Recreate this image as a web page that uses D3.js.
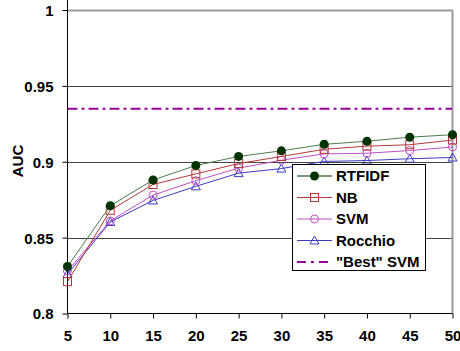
<!DOCTYPE html>
<html><head><meta charset="utf-8">
<script src="https://cdn.jsdelivr.net/npm/d3@7"></script>
<style>body{margin:0;background:#fff}svg{display:block}text{font-family:Arial,"Liberation Sans",sans-serif;font-weight:bold}</style>
</head><body><svg id="c" width="460" height="351"></svg>
<script>
const xValues = [5,10,15,20,25,30,35,40,45,50];
const rtfidf  = [0.831,0.871,0.888,0.8975,0.9035,0.9072,0.9115,0.9135,0.9162,0.9178];
const nb      = [0.821,0.868,0.885,0.892,0.8988,0.9035,0.9082,0.9103,0.9112,0.9143];
const svm     = [0.828,0.861,0.878,0.8875,0.8958,0.901,0.9052,0.9056,0.9074,0.9097];
const rocchio = [0.826,0.8603,0.8745,0.8838,0.8925,0.8955,0.9002,0.9008,0.902,0.9028];
const bestSvm = 0.935;
const yTicks = [0.8,0.85,0.9,0.95,1];
const seriesNames = ["RTFIDF","NB","SVM","Rocchio"];

const svg = d3.select("#c");
const x = d3.scaleLinear().domain([5,50]).range([67.5,452.5]);
const y = d3.scaleLinear().domain([0.8,1]).range([313.5,10]);
const FS = "15px";

svg.append("g").selectAll("line").data(yTicks.filter(t=>t>0.8&&t<1)).join("line")
  .attr("x1",67.5).attr("x2",452).attr("y1",d=>Math.round(y(d))+0.5).attr("y2",d=>Math.round(y(d))+0.5)
  .attr("stroke","#444").attr("stroke-width",1);
svg.append("line").attr("x1",67.5).attr("x2",453).attr("y1",10.5).attr("y2",10.5).attr("stroke","#999").attr("stroke-width",2);
svg.append("line").attr("x1",452.5).attr("x2",452.5).attr("y1",10).attr("y2",313.5).attr("stroke","#999").attr("stroke-width",2);

const yAxis = svg.append("g").attr("transform","translate(67.5,0)")
  .call(d3.axisLeft(y).tickValues(yTicks).tickSize(5).tickFormat(d=>String(d)));
const xAxis = svg.append("g").attr("transform","translate(0,313.5)")
  .call(d3.axisBottom(x).tickValues(xValues).tickSize(5).tickFormat(d=>String(d)));
[yAxis,xAxis].forEach(a=>{a.select(".domain").attr("stroke","#000");a.selectAll(".tick line").attr("stroke","#000");
  a.selectAll("text").attr("fill","#000").style("font-size",FS).style("font-family","Arial, 'Liberation Sans', sans-serif").style("font-weight","bold");});
yAxis.selectAll(".tick text").attr("x",-14).attr("dy","0.36em");
xAxis.selectAll(".tick text").attr("y",17);
xAxis.select(".domain").attr("d","M67.5,0H452.5");
yAxis.select(".domain").attr("d","M0,10V0");
svg.append("line").attr("x1",67.5).attr("x2",67.5).attr("y1",10).attr("y2",313.5).attr("stroke","#000");

svg.append("text").attr("transform","translate(17.5,161) rotate(-90)").attr("text-anchor","middle").attr("dy","0.36em")
  .style("font-size",FS).text("AUC");

svg.append("line").attr("x1",67.5).attr("x2",452).attr("y1",y(bestSvm)).attr("y2",y(bestSvm))
  .attr("stroke","#990099").attr("stroke-width",2).attr("stroke-dasharray","10,4,3,4");

const styles = [
  {data:rtfidf, line:"#4e7d4e", mk:"circleF", col:"#003300"},
  {data:nb, line:"#b23a3a", mk:"square", col:"#b23a3a"},
  {data:svm, line:"#c04fc0", mk:"circle", col:"#c04fc0"},
  {data:rocchio, line:"#3c3cc0", mk:"tri", col:"#3c3cc0"}
];
const line = d3.line().x((d,i)=>x(xValues[i])).y(d=>y(d));
function marker(g, type, col, cx, cy){
  if(type==="circleF") g.append("circle").attr("cx",cx).attr("cy",cy).attr("r",4.5).attr("fill",col);
  else if(type==="square") g.append("rect").attr("x",cx-4).attr("y",cy-4).attr("width",8).attr("height",8).attr("fill","none").attr("stroke",col);
  else if(type==="circle") g.append("circle").attr("cx",cx).attr("cy",cy).attr("r",4).attr("fill","none").attr("stroke",col);
  else g.append("path").attr("d",`M${cx},${cy-4.5}L${cx+4.5},${cy+3.5}L${cx-4.5},${cy+3.5}Z`).attr("fill","none").attr("stroke",col);
}
styles.slice().reverse().forEach(s=>{
  const g = svg.append("g");
  g.append("path").datum(s.data).attr("d",line).attr("fill","none").attr("stroke",s.line).attr("stroke-width",1);
  s.data.forEach((v,i)=>marker(g,s.mk,s.col,x(xValues[i]),y(v)));
});

const lg = svg.append("g");
lg.append("rect").attr("x",292.5).attr("y",164.5).attr("width",133).attr("height",106).attr("fill","#fff").attr("stroke","#000");
const rows = seriesNames.concat(['"Best" SVM']);
rows.forEach((name,i)=>{
  const ry = 176 + i*21.5;
  if(i<4){
    const s = styles[i];
    lg.append("line").attr("x1",297).attr("x2",332).attr("y1",ry).attr("y2",ry).attr("stroke",i===0?"#7a9a7a":s.line).attr("stroke-width",i===0?2:1);
    marker(lg,s.mk,s.col,314.5,ry);
  } else {
    lg.append("line").attr("x1",297).attr("x2",332).attr("y1",ry).attr("y2",ry).attr("stroke","#990099").attr("stroke-width",2).attr("stroke-dasharray","9,5,3,5");
  }
  lg.append("text").attr("x",336).attr("y",ry).attr("dy","0.36em").style("font-size",FS).text(name);
});
</script></body></html>
